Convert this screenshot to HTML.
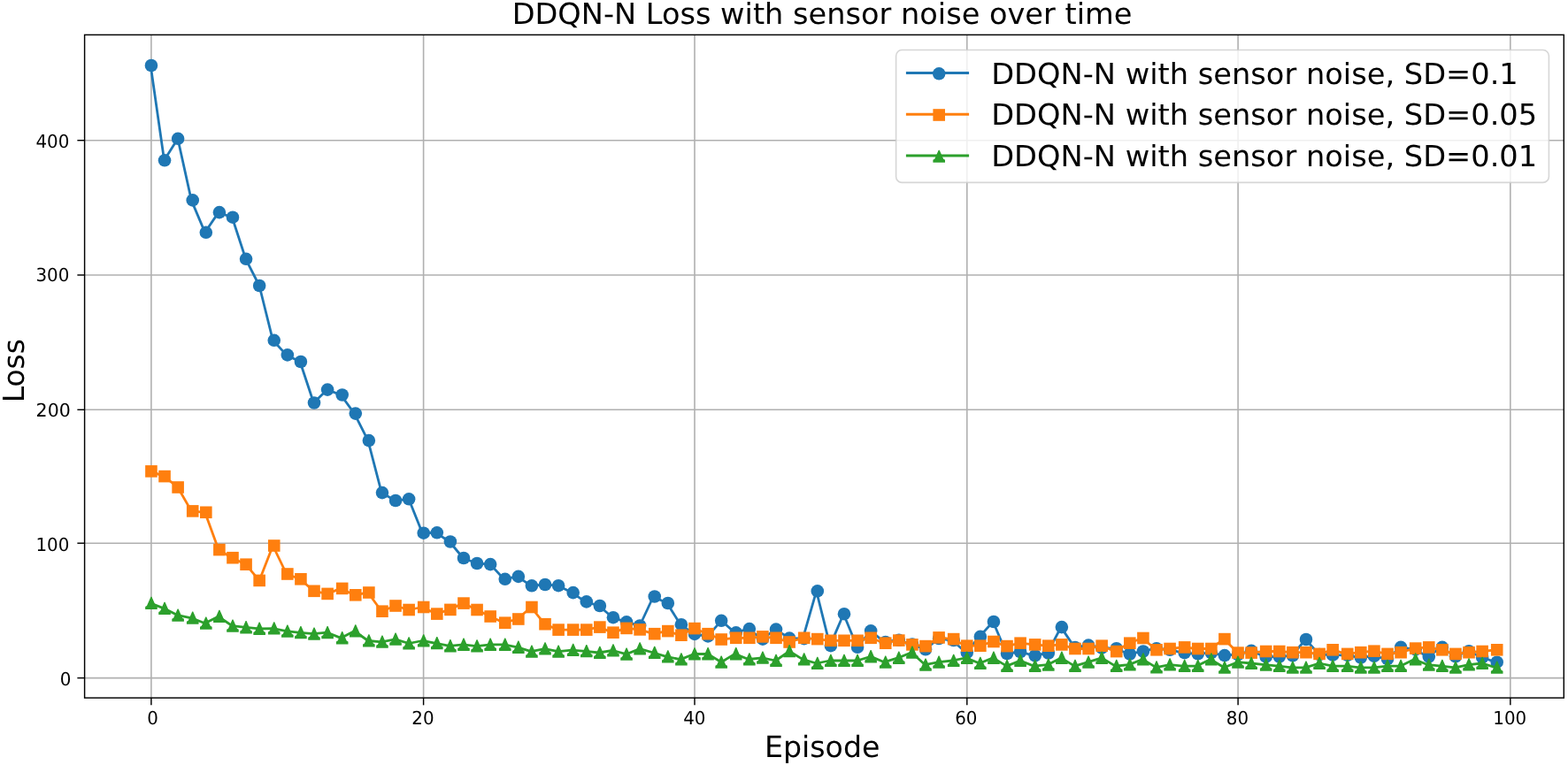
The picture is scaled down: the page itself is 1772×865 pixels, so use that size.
<!DOCTYPE html>
<html lang="en">
<head>
<meta charset="utf-8">
<title>DDQN-N Loss with sensor noise over time</title>
<style>
html,body{margin:0;padding:0;background:#fff;}
body{width:1772px;height:865px;overflow:hidden;}
svg{display:block;}
text{font-family:"DejaVu Sans", "Liberation Sans", sans-serif;fill:#000;text-rendering:geometricPrecision;}
.big{font-size:33.6px;}
.tick{font-size:20.7px;}
.grid line{stroke:#b0b0b0;stroke-width:1.6;}
.ticks line{stroke:#000;stroke-width:1.45;}
.ln{fill:none;stroke-width:2.8;stroke-linejoin:round;stroke-linecap:butt;}
</style>
</head>
<body>
<svg width="1772" height="865" viewBox="0 0 1772 865">
<rect x="0" y="0" width="1772" height="865" fill="#ffffff"/>
<g class="grid">
<line x1="170.9" y1="39.4" x2="170.9" y2="789.1"/>
<line x1="478.6" y1="39.4" x2="478.6" y2="789.1"/>
<line x1="785" y1="39.4" x2="785" y2="789.1"/>
<line x1="1092.8" y1="39.4" x2="1092.8" y2="789.1"/>
<line x1="1399.1" y1="39.4" x2="1399.1" y2="789.1"/>
<line x1="1706.85" y1="39.4" x2="1706.85" y2="789.1"/>
<line x1="95.6" y1="158.7" x2="1767.3" y2="158.7"/>
<line x1="95.6" y1="311" x2="1767.3" y2="311"/>
<line x1="95.6" y1="463.3" x2="1767.3" y2="463.3"/>
<line x1="95.6" y1="614.2" x2="1767.3" y2="614.2"/>
<line x1="95.6" y1="766.6" x2="1767.3" y2="766.6"/>
</g>
<g fill="#1f77b4" stroke="none">
<polyline class="ln" stroke="#1f77b4" points="170.2,74 185.56,181.3 200.91,156.8 216.27,226.4 231.62,262.8 246.98,240.1 262.33,245.7 277.69,292.8 293.04,323 308.4,384.8 323.76,401.4 339.11,409 354.47,455.5 369.82,440.6 385.18,446.5 400.53,467.6 415.89,498.1 431.25,557.1 446.6,566 461.96,564.3 477.31,602.7 492.67,602.3 508.02,612.5 523.38,631 538.73,637 554.09,638.1 569.45,654.8 584.8,651.9 600.16,662.3 615.51,661 630.87,662.2 646.22,670.1 661.58,680.4 676.93,685 692.29,698.2 707.65,703.3 723,707.5 738.36,674.5 753.71,682 769.07,706.2 784.42,716.9 799.78,719.4 815.14,701.8 830.49,715.4 845.85,711.1 861.2,722.6 876.56,711.6 891.91,721.6 907.27,722.1 922.62,668.4 937.98,730.1 953.34,694.2 968.69,731.8 984.05,713.3 999.4,726 1014.76,723.8 1030.11,728.5 1045.47,734.3 1060.82,722 1076.18,724 1091.54,737.8 1106.89,719.9 1122.25,703 1137.6,739 1152.96,737 1168.31,741.4 1183.67,738.5 1199.03,709.1 1214.38,732 1229.74,729.6 1245.09,732.6 1260.45,733.2 1275.8,739.5 1291.16,736.5 1306.51,733.2 1321.87,734.8 1337.23,738.1 1352.58,739.3 1367.94,738.2 1383.29,741.1 1398.65,740 1414,735.8 1429.36,742.7 1444.71,742.6 1460.07,741.4 1475.43,723 1490.78,740 1506.14,740.7 1521.49,740.8 1536.85,743.5 1552.2,741.9 1567.56,745 1582.92,731.9 1598.27,734.3 1613.63,742.6 1628.98,731.9 1644.34,742.3 1659.69,736.2 1675.05,743.4 1690.4,748.7"/>
<circle cx="170.95" cy="74" r="7.3"/><circle cx="186.04" cy="181.3" r="7.3"/><circle cx="201.12" cy="156.8" r="7.3"/><circle cx="217.72" cy="226.4" r="7.3"/><circle cx="232.81" cy="262.8" r="7.3"/>
<circle cx="247.89" cy="240.1" r="7.3"/><circle cx="262.98" cy="245.7" r="7.3"/><circle cx="278.07" cy="292.8" r="7.3"/><circle cx="293.15" cy="323" r="7.3"/><circle cx="309.75" cy="384.8" r="7.3"/>
<circle cx="324.84" cy="401.4" r="7.3"/><circle cx="339.92" cy="409" r="7.3"/><circle cx="355.01" cy="455.5" r="7.3"/><circle cx="370.1" cy="440.6" r="7.3"/><circle cx="386.69" cy="446.5" r="7.3"/>
<circle cx="401.78" cy="467.6" r="7.3"/><circle cx="416.87" cy="498.1" r="7.3"/><circle cx="431.96" cy="557.1" r="7.3"/><circle cx="447.04" cy="566" r="7.3"/><circle cx="462.13" cy="564.3" r="7.3"/>
<circle cx="478.72" cy="602.7" r="7.3"/><circle cx="493.81" cy="602.3" r="7.3"/><circle cx="508.9" cy="612.5" r="7.3"/><circle cx="523.99" cy="631" r="7.3"/><circle cx="539.07" cy="637" r="7.3"/>
<circle cx="554.16" cy="638.1" r="7.3"/><circle cx="570.76" cy="654.8" r="7.3"/><circle cx="585.84" cy="651.9" r="7.3"/><circle cx="600.93" cy="662.3" r="7.3"/><circle cx="616.02" cy="661" r="7.3"/>
<circle cx="631.1" cy="662.2" r="7.3"/><circle cx="647.7" cy="670.1" r="7.3"/><circle cx="662.79" cy="680.4" r="7.3"/><circle cx="677.87" cy="685" r="7.3"/><circle cx="692.96" cy="698.2" r="7.3"/>
<circle cx="708.05" cy="703.3" r="7.3"/><circle cx="723.13" cy="707.5" r="7.3"/><circle cx="739.73" cy="674.5" r="7.3"/><circle cx="754.82" cy="682" r="7.3"/><circle cx="769.9" cy="706.2" r="7.3"/>
<circle cx="784.99" cy="716.9" r="7.3"/><circle cx="800.08" cy="719.4" r="7.3"/><circle cx="815.16" cy="701.8" r="7.3"/><circle cx="831.76" cy="715.4" r="7.3"/><circle cx="846.85" cy="711.1" r="7.3"/>
<circle cx="861.93" cy="722.6" r="7.3"/><circle cx="877.02" cy="711.6" r="7.3"/><circle cx="892.11" cy="721.6" r="7.3"/><circle cx="908.7" cy="722.1" r="7.3"/><circle cx="923.79" cy="668.4" r="7.3"/>
<circle cx="938.88" cy="730.1" r="7.3"/><circle cx="953.97" cy="694.2" r="7.3"/><circle cx="969.05" cy="731.8" r="7.3"/><circle cx="984.14" cy="713.3" r="7.3"/><circle cx="1000.73" cy="726" r="7.3"/>
<circle cx="1015.82" cy="723.8" r="7.3"/><circle cx="1030.91" cy="728.5" r="7.3"/><circle cx="1046" cy="734.3" r="7.3"/><circle cx="1061.08" cy="722" r="7.3"/><circle cx="1077.68" cy="724" r="7.3"/>
<circle cx="1092.77" cy="737.8" r="7.3"/><circle cx="1107.85" cy="719.9" r="7.3"/><circle cx="1122.94" cy="703" r="7.3"/><circle cx="1138.03" cy="739" r="7.3"/><circle cx="1153.11" cy="737" r="7.3"/>
<circle cx="1169.71" cy="741.4" r="7.3"/><circle cx="1184.8" cy="738.5" r="7.3"/><circle cx="1199.88" cy="709.1" r="7.3"/><circle cx="1214.97" cy="732" r="7.3"/><circle cx="1230.06" cy="729.6" r="7.3"/>
<circle cx="1245.14" cy="732.6" r="7.3"/><circle cx="1261.74" cy="733.2" r="7.3"/><circle cx="1276.83" cy="739.5" r="7.3"/><circle cx="1291.91" cy="736.5" r="7.3"/><circle cx="1307" cy="733.2" r="7.3"/>
<circle cx="1322.09" cy="734.8" r="7.3"/><circle cx="1338.68" cy="738.1" r="7.3"/><circle cx="1353.77" cy="739.3" r="7.3"/><circle cx="1368.86" cy="738.2" r="7.3"/><circle cx="1383.94" cy="741.1" r="7.3"/>
<circle cx="1399.03" cy="740" r="7.3"/><circle cx="1414.12" cy="735.8" r="7.3"/><circle cx="1430.71" cy="742.7" r="7.3"/><circle cx="1445.8" cy="742.6" r="7.3"/><circle cx="1460.89" cy="741.4" r="7.3"/>
<circle cx="1475.98" cy="723" r="7.3"/><circle cx="1491.06" cy="740" r="7.3"/><circle cx="1506.15" cy="740.7" r="7.3"/><circle cx="1522.75" cy="740.8" r="7.3"/><circle cx="1537.83" cy="743.5" r="7.3"/>
<circle cx="1552.92" cy="741.9" r="7.3"/><circle cx="1568.01" cy="745" r="7.3"/><circle cx="1583.09" cy="731.9" r="7.3"/><circle cx="1599.69" cy="734.3" r="7.3"/><circle cx="1614.78" cy="742.6" r="7.3"/>
<circle cx="1629.86" cy="731.9" r="7.3"/><circle cx="1644.95" cy="742.3" r="7.3"/><circle cx="1660.04" cy="736.2" r="7.3"/><circle cx="1675.12" cy="743.4" r="7.3"/><circle cx="1691.72" cy="748.7" r="7.3"/>
</g>
<g fill="#ff7f0e" stroke="none">
<polyline class="ln" stroke="#ff7f0e" points="170.2,532.9 185.56,538.6 200.91,551 216.27,577.9 231.62,579.3 246.98,621.6 262.33,630.7 277.69,638.2 293.04,656.4 308.4,617 323.76,649 339.11,654.8 354.47,668.3 369.82,671.4 385.18,665.4 400.53,672.8 415.89,670 431.25,691.2 446.6,685 461.96,689.5 477.31,686.5 492.67,694.1 508.02,689.4 523.38,682.1 538.73,689.5 554.09,697 569.45,704.2 584.8,700 600.16,686.5 615.51,705.7 630.87,712.1 646.22,712.1 661.58,712.1 676.93,709.1 692.29,715.2 707.65,710.4 723,711.9 738.36,716.7 753.71,713.6 769.07,718.2 784.42,710.6 799.78,716.7 815.14,723 830.49,721.3 845.85,721.3 861.2,719.9 876.56,721.3 891.91,726 907.27,721.3 922.62,722.6 937.98,724.3 953.34,724.3 968.69,724.3 984.05,721.3 999.4,727.2 1014.76,724.1 1030.11,728.9 1045.47,730.6 1060.82,720.9 1076.18,722.6 1091.54,730.2 1106.89,730.2 1122.25,725.5 1137.6,730.6 1152.96,727.2 1168.31,728.9 1183.67,730.2 1199.03,728.9 1214.38,733.5 1229.74,733.5 1245.09,730.2 1260.45,736.6 1275.8,727.2 1291.16,721.5 1306.51,734.8 1321.87,733.5 1337.23,731.9 1352.58,733.5 1367.94,733.5 1383.29,722.6 1398.65,738.1 1414,738.1 1429.36,736.5 1444.71,736.5 1460.07,737.7 1475.43,737.7 1490.78,739.4 1506.14,734.8 1521.49,739.4 1536.85,737.7 1552.2,736.2 1567.56,739.4 1582.92,737.7 1598.27,733.1 1613.63,731.9 1628.98,734.8 1644.34,739.4 1659.69,737.7 1675.05,736.5 1690.4,734.8"/>
<rect x="164.15" y="526.1" width="13.6" height="13.6"/><rect x="179.24" y="531.8" width="13.6" height="13.6"/><rect x="194.32" y="544.2" width="13.6" height="13.6"/><rect x="210.92" y="571.1" width="13.6" height="13.6"/><rect x="226.01" y="572.5" width="13.6" height="13.6"/>
<rect x="241.09" y="614.8" width="13.6" height="13.6"/><rect x="256.18" y="623.9" width="13.6" height="13.6"/><rect x="271.27" y="631.4" width="13.6" height="13.6"/><rect x="286.35" y="649.6" width="13.6" height="13.6"/><rect x="302.95" y="610.2" width="13.6" height="13.6"/>
<rect x="318.04" y="642.2" width="13.6" height="13.6"/><rect x="333.12" y="648" width="13.6" height="13.6"/><rect x="348.21" y="661.5" width="13.6" height="13.6"/><rect x="363.3" y="664.6" width="13.6" height="13.6"/><rect x="379.89" y="658.6" width="13.6" height="13.6"/>
<rect x="394.98" y="666" width="13.6" height="13.6"/><rect x="410.07" y="663.2" width="13.6" height="13.6"/><rect x="425.16" y="684.4" width="13.6" height="13.6"/><rect x="440.24" y="678.2" width="13.6" height="13.6"/><rect x="455.33" y="682.7" width="13.6" height="13.6"/>
<rect x="471.92" y="679.7" width="13.6" height="13.6"/><rect x="487.01" y="687.3" width="13.6" height="13.6"/><rect x="502.1" y="682.6" width="13.6" height="13.6"/><rect x="517.19" y="675.3" width="13.6" height="13.6"/><rect x="532.27" y="682.7" width="13.6" height="13.6"/>
<rect x="547.36" y="690.2" width="13.6" height="13.6"/><rect x="563.96" y="697.4" width="13.6" height="13.6"/><rect x="579.04" y="693.2" width="13.6" height="13.6"/><rect x="594.13" y="679.7" width="13.6" height="13.6"/><rect x="609.22" y="698.9" width="13.6" height="13.6"/>
<rect x="624.3" y="705.3" width="13.6" height="13.6"/><rect x="640.9" y="705.3" width="13.6" height="13.6"/><rect x="655.99" y="705.3" width="13.6" height="13.6"/><rect x="671.07" y="702.3" width="13.6" height="13.6"/><rect x="686.16" y="708.4" width="13.6" height="13.6"/>
<rect x="701.25" y="703.6" width="13.6" height="13.6"/><rect x="716.33" y="705.1" width="13.6" height="13.6"/><rect x="732.93" y="709.9" width="13.6" height="13.6"/><rect x="748.02" y="706.8" width="13.6" height="13.6"/><rect x="763.1" y="711.4" width="13.6" height="13.6"/>
<rect x="778.19" y="703.8" width="13.6" height="13.6"/><rect x="793.28" y="709.9" width="13.6" height="13.6"/><rect x="808.36" y="716.2" width="13.6" height="13.6"/><rect x="824.96" y="714.5" width="13.6" height="13.6"/><rect x="840.05" y="714.5" width="13.6" height="13.6"/>
<rect x="855.13" y="713.1" width="13.6" height="13.6"/><rect x="870.22" y="714.5" width="13.6" height="13.6"/><rect x="885.31" y="719.2" width="13.6" height="13.6"/><rect x="901.9" y="714.5" width="13.6" height="13.6"/><rect x="916.99" y="715.8" width="13.6" height="13.6"/>
<rect x="932.08" y="717.5" width="13.6" height="13.6"/><rect x="947.17" y="717.5" width="13.6" height="13.6"/><rect x="962.25" y="717.5" width="13.6" height="13.6"/><rect x="977.34" y="714.5" width="13.6" height="13.6"/><rect x="993.93" y="720.4" width="13.6" height="13.6"/>
<rect x="1009.02" y="717.3" width="13.6" height="13.6"/><rect x="1024.11" y="722.1" width="13.6" height="13.6"/><rect x="1039.2" y="723.8" width="13.6" height="13.6"/><rect x="1054.28" y="714.1" width="13.6" height="13.6"/><rect x="1070.88" y="715.8" width="13.6" height="13.6"/>
<rect x="1085.97" y="723.4" width="13.6" height="13.6"/><rect x="1101.05" y="723.4" width="13.6" height="13.6"/><rect x="1116.14" y="718.7" width="13.6" height="13.6"/><rect x="1131.23" y="723.8" width="13.6" height="13.6"/><rect x="1146.31" y="720.4" width="13.6" height="13.6"/>
<rect x="1162.91" y="722.1" width="13.6" height="13.6"/><rect x="1178" y="723.4" width="13.6" height="13.6"/><rect x="1193.08" y="722.1" width="13.6" height="13.6"/><rect x="1208.17" y="726.7" width="13.6" height="13.6"/><rect x="1223.26" y="726.7" width="13.6" height="13.6"/>
<rect x="1238.34" y="723.4" width="13.6" height="13.6"/><rect x="1254.94" y="729.8" width="13.6" height="13.6"/><rect x="1270.03" y="720.4" width="13.6" height="13.6"/><rect x="1285.11" y="714.7" width="13.6" height="13.6"/><rect x="1300.2" y="728" width="13.6" height="13.6"/>
<rect x="1315.29" y="726.7" width="13.6" height="13.6"/><rect x="1331.88" y="725.1" width="13.6" height="13.6"/><rect x="1346.97" y="726.7" width="13.6" height="13.6"/><rect x="1362.06" y="726.7" width="13.6" height="13.6"/><rect x="1377.14" y="715.8" width="13.6" height="13.6"/>
<rect x="1392.23" y="731.3" width="13.6" height="13.6"/><rect x="1407.32" y="731.3" width="13.6" height="13.6"/><rect x="1423.91" y="729.7" width="13.6" height="13.6"/><rect x="1439" y="729.7" width="13.6" height="13.6"/><rect x="1454.09" y="730.9" width="13.6" height="13.6"/>
<rect x="1469.18" y="730.9" width="13.6" height="13.6"/><rect x="1484.26" y="732.6" width="13.6" height="13.6"/><rect x="1499.35" y="728" width="13.6" height="13.6"/><rect x="1515.95" y="732.6" width="13.6" height="13.6"/><rect x="1531.03" y="730.9" width="13.6" height="13.6"/>
<rect x="1546.12" y="729.4" width="13.6" height="13.6"/><rect x="1561.21" y="732.6" width="13.6" height="13.6"/><rect x="1576.29" y="730.9" width="13.6" height="13.6"/><rect x="1592.89" y="726.3" width="13.6" height="13.6"/><rect x="1607.98" y="725.1" width="13.6" height="13.6"/>
<rect x="1623.06" y="728" width="13.6" height="13.6"/><rect x="1638.15" y="732.6" width="13.6" height="13.6"/><rect x="1653.24" y="730.9" width="13.6" height="13.6"/><rect x="1668.32" y="729.7" width="13.6" height="13.6"/><rect x="1684.92" y="728" width="13.6" height="13.6"/>
</g>
<g fill="#2ca02c" stroke="none">
<polyline class="ln" stroke="#2ca02c" points="170.2,682 185.56,688.1 200.91,695.7 216.27,698.8 231.62,704.7 246.98,697.1 262.33,707.7 277.69,709.4 293.04,710.9 308.4,710.6 323.76,713.7 339.11,715.3 354.47,716.7 369.82,715.2 385.18,721.4 400.53,713.5 415.89,724.5 431.25,725.8 446.6,722.8 461.96,727.5 477.31,724.5 492.67,727.3 508.02,730.4 523.38,728.9 538.73,730.6 554.09,728.9 569.45,728.9 584.8,731.9 600.16,736.7 615.51,733.6 630.87,736.7 646.22,735.1 661.58,736.3 676.93,738 692.29,735.5 707.65,739.7 723,733.6 738.36,738 753.71,742.6 769.07,745.6 784.42,739.5 799.78,739.4 815.14,748.7 830.49,739.4 845.85,745.5 861.2,743.8 876.56,747 891.91,736.3 907.27,745.6 922.62,750 937.98,747 953.34,747 968.69,747 984.05,742.4 999.4,748.7 1014.76,743.9 1030.11,737.7 1045.47,751.7 1060.82,748.7 1076.18,747 1091.54,743.9 1106.89,750 1122.25,743.9 1137.6,753.1 1152.96,747 1168.31,753.1 1183.67,751.7 1199.03,743.9 1214.38,753.1 1229.74,748.7 1245.09,743.9 1260.45,753.1 1275.8,751.6 1291.16,745.5 1306.51,754.6 1321.87,751.6 1337.23,753.1 1352.58,753.1 1367.94,745.5 1383.29,754.8 1398.65,748.7 1414,750 1429.36,751.7 1444.71,753.1 1460.07,754.8 1475.43,754.8 1490.78,750 1506.14,753.1 1521.49,753.1 1536.85,754.8 1552.2,754.8 1567.56,753.1 1582.92,753.1 1598.27,745.5 1613.63,751.7 1628.98,753.1 1644.34,754.8 1659.69,751.6 1675.05,750 1690.4,754.8"/>
<polygon points="170.95,674.7 171.45,674.7 175.95,685 177.75,686 177.75,689 164.15,689 164.15,686 165.95,685 170.45,674.7"/><polygon points="186.04,680.8 186.54,680.8 191.04,691.1 192.84,692.1 192.84,695.1 179.24,695.1 179.24,692.1 181.04,691.1 185.54,680.8"/><polygon points="201.12,688.4 201.62,688.4 206.12,698.7 207.92,699.7 207.92,702.7 194.32,702.7 194.32,699.7 196.12,698.7 200.62,688.4"/><polygon points="217.72,691.5 218.22,691.5 222.72,701.8 224.52,702.8 224.52,705.8 210.92,705.8 210.92,702.8 212.72,701.8 217.22,691.5"/><polygon points="232.81,697.4 233.31,697.4 237.81,707.7 239.61,708.7 239.61,711.7 226.01,711.7 226.01,708.7 227.81,707.7 232.31,697.4"/>
<polygon points="247.89,689.8 248.39,689.8 252.89,700.1 254.69,701.1 254.69,704.1 241.09,704.1 241.09,701.1 242.89,700.1 247.39,689.8"/><polygon points="262.98,700.4 263.48,700.4 267.98,710.7 269.78,711.7 269.78,714.7 256.18,714.7 256.18,711.7 257.98,710.7 262.48,700.4"/><polygon points="278.07,702.1 278.57,702.1 283.07,712.4 284.87,713.4 284.87,716.4 271.27,716.4 271.27,713.4 273.07,712.4 277.57,702.1"/><polygon points="293.15,703.6 293.65,703.6 298.15,713.9 299.95,714.9 299.95,717.9 286.35,717.9 286.35,714.9 288.15,713.9 292.65,703.6"/><polygon points="309.75,703.3 310.25,703.3 314.75,713.6 316.55,714.6 316.55,717.6 302.95,717.6 302.95,714.6 304.75,713.6 309.25,703.3"/>
<polygon points="324.84,706.4 325.34,706.4 329.84,716.7 331.64,717.7 331.64,720.7 318.04,720.7 318.04,717.7 319.84,716.7 324.34,706.4"/><polygon points="339.92,708 340.42,708 344.92,718.3 346.72,719.3 346.72,722.3 333.12,722.3 333.12,719.3 334.92,718.3 339.42,708"/><polygon points="355.01,709.4 355.51,709.4 360.01,719.7 361.81,720.7 361.81,723.7 348.21,723.7 348.21,720.7 350.01,719.7 354.51,709.4"/><polygon points="370.1,707.9 370.6,707.9 375.1,718.2 376.9,719.2 376.9,722.2 363.3,722.2 363.3,719.2 365.1,718.2 369.6,707.9"/><polygon points="386.69,714.1 387.19,714.1 391.69,724.4 393.49,725.4 393.49,728.4 379.89,728.4 379.89,725.4 381.69,724.4 386.19,714.1"/>
<polygon points="401.78,706.2 402.28,706.2 406.78,716.5 408.58,717.5 408.58,720.5 394.98,720.5 394.98,717.5 396.78,716.5 401.28,706.2"/><polygon points="416.87,717.2 417.37,717.2 421.87,727.5 423.67,728.5 423.67,731.5 410.07,731.5 410.07,728.5 411.87,727.5 416.37,717.2"/><polygon points="431.96,718.5 432.46,718.5 436.96,728.8 438.76,729.8 438.76,732.8 425.16,732.8 425.16,729.8 426.96,728.8 431.46,718.5"/><polygon points="447.04,715.5 447.54,715.5 452.04,725.8 453.84,726.8 453.84,729.8 440.24,729.8 440.24,726.8 442.04,725.8 446.54,715.5"/><polygon points="462.13,720.2 462.63,720.2 467.13,730.5 468.93,731.5 468.93,734.5 455.33,734.5 455.33,731.5 457.13,730.5 461.63,720.2"/>
<polygon points="478.72,717.2 479.22,717.2 483.72,727.5 485.52,728.5 485.52,731.5 471.92,731.5 471.92,728.5 473.72,727.5 478.22,717.2"/><polygon points="493.81,720 494.31,720 498.81,730.3 500.61,731.3 500.61,734.3 487.01,734.3 487.01,731.3 488.81,730.3 493.31,720"/><polygon points="508.9,723.1 509.4,723.1 513.9,733.4 515.7,734.4 515.7,737.4 502.1,737.4 502.1,734.4 503.9,733.4 508.4,723.1"/><polygon points="523.99,721.6 524.49,721.6 528.99,731.9 530.79,732.9 530.79,735.9 517.19,735.9 517.19,732.9 518.99,731.9 523.49,721.6"/><polygon points="539.07,723.3 539.57,723.3 544.07,733.6 545.87,734.6 545.87,737.6 532.27,737.6 532.27,734.6 534.07,733.6 538.57,723.3"/>
<polygon points="554.16,721.6 554.66,721.6 559.16,731.9 560.96,732.9 560.96,735.9 547.36,735.9 547.36,732.9 549.16,731.9 553.66,721.6"/><polygon points="570.76,721.6 571.26,721.6 575.76,731.9 577.56,732.9 577.56,735.9 563.96,735.9 563.96,732.9 565.76,731.9 570.26,721.6"/><polygon points="585.84,724.6 586.34,724.6 590.84,734.9 592.64,735.9 592.64,738.9 579.04,738.9 579.04,735.9 580.84,734.9 585.34,724.6"/><polygon points="600.93,729.4 601.43,729.4 605.93,739.7 607.73,740.7 607.73,743.7 594.13,743.7 594.13,740.7 595.93,739.7 600.43,729.4"/><polygon points="616.02,726.3 616.52,726.3 621.02,736.6 622.82,737.6 622.82,740.6 609.22,740.6 609.22,737.6 611.02,736.6 615.52,726.3"/>
<polygon points="631.1,729.4 631.6,729.4 636.1,739.7 637.9,740.7 637.9,743.7 624.3,743.7 624.3,740.7 626.1,739.7 630.6,729.4"/><polygon points="647.7,727.8 648.2,727.8 652.7,738.1 654.5,739.1 654.5,742.1 640.9,742.1 640.9,739.1 642.7,738.1 647.2,727.8"/><polygon points="662.79,729 663.29,729 667.79,739.3 669.59,740.3 669.59,743.3 655.99,743.3 655.99,740.3 657.79,739.3 662.29,729"/><polygon points="677.87,730.7 678.37,730.7 682.87,741 684.67,742 684.67,745 671.07,745 671.07,742 672.87,741 677.37,730.7"/><polygon points="692.96,728.2 693.46,728.2 697.96,738.5 699.76,739.5 699.76,742.5 686.16,742.5 686.16,739.5 687.96,738.5 692.46,728.2"/>
<polygon points="708.05,732.4 708.55,732.4 713.05,742.7 714.85,743.7 714.85,746.7 701.25,746.7 701.25,743.7 703.05,742.7 707.55,732.4"/><polygon points="723.13,726.3 723.63,726.3 728.13,736.6 729.93,737.6 729.93,740.6 716.33,740.6 716.33,737.6 718.13,736.6 722.63,726.3"/><polygon points="739.73,730.7 740.23,730.7 744.73,741 746.53,742 746.53,745 732.93,745 732.93,742 734.73,741 739.23,730.7"/><polygon points="754.82,735.3 755.32,735.3 759.82,745.6 761.62,746.6 761.62,749.6 748.02,749.6 748.02,746.6 749.82,745.6 754.32,735.3"/><polygon points="769.9,738.3 770.4,738.3 774.9,748.6 776.7,749.6 776.7,752.6 763.1,752.6 763.1,749.6 764.9,748.6 769.4,738.3"/>
<polygon points="784.99,732.2 785.49,732.2 789.99,742.5 791.79,743.5 791.79,746.5 778.19,746.5 778.19,743.5 779.99,742.5 784.49,732.2"/><polygon points="800.08,732.1 800.58,732.1 805.08,742.4 806.88,743.4 806.88,746.4 793.28,746.4 793.28,743.4 795.08,742.4 799.58,732.1"/><polygon points="815.16,741.4 815.66,741.4 820.16,751.7 821.96,752.7 821.96,755.7 808.36,755.7 808.36,752.7 810.16,751.7 814.66,741.4"/><polygon points="831.76,732.1 832.26,732.1 836.76,742.4 838.56,743.4 838.56,746.4 824.96,746.4 824.96,743.4 826.76,742.4 831.26,732.1"/><polygon points="846.85,738.2 847.35,738.2 851.85,748.5 853.65,749.5 853.65,752.5 840.05,752.5 840.05,749.5 841.85,748.5 846.35,738.2"/>
<polygon points="861.93,736.5 862.43,736.5 866.93,746.8 868.73,747.8 868.73,750.8 855.13,750.8 855.13,747.8 856.93,746.8 861.43,736.5"/><polygon points="877.02,739.7 877.52,739.7 882.02,750 883.82,751 883.82,754 870.22,754 870.22,751 872.02,750 876.52,739.7"/><polygon points="892.11,729 892.61,729 897.11,739.3 898.91,740.3 898.91,743.3 885.31,743.3 885.31,740.3 887.11,739.3 891.61,729"/><polygon points="908.7,738.3 909.2,738.3 913.7,748.6 915.5,749.6 915.5,752.6 901.9,752.6 901.9,749.6 903.7,748.6 908.2,738.3"/><polygon points="923.79,742.7 924.29,742.7 928.79,753 930.59,754 930.59,757 916.99,757 916.99,754 918.79,753 923.29,742.7"/>
<polygon points="938.88,739.7 939.38,739.7 943.88,750 945.68,751 945.68,754 932.08,754 932.08,751 933.88,750 938.38,739.7"/><polygon points="953.97,739.7 954.47,739.7 958.97,750 960.77,751 960.77,754 947.17,754 947.17,751 948.97,750 953.47,739.7"/><polygon points="969.05,739.7 969.55,739.7 974.05,750 975.85,751 975.85,754 962.25,754 962.25,751 964.05,750 968.55,739.7"/><polygon points="984.14,735.1 984.64,735.1 989.14,745.4 990.94,746.4 990.94,749.4 977.34,749.4 977.34,746.4 979.14,745.4 983.64,735.1"/><polygon points="1000.73,741.4 1001.23,741.4 1005.73,751.7 1007.53,752.7 1007.53,755.7 993.93,755.7 993.93,752.7 995.73,751.7 1000.23,741.4"/>
<polygon points="1015.82,736.6 1016.32,736.6 1020.82,746.9 1022.62,747.9 1022.62,750.9 1009.02,750.9 1009.02,747.9 1010.82,746.9 1015.32,736.6"/><polygon points="1030.91,730.4 1031.41,730.4 1035.91,740.7 1037.71,741.7 1037.71,744.7 1024.11,744.7 1024.11,741.7 1025.91,740.7 1030.41,730.4"/><polygon points="1046,744.4 1046.5,744.4 1051,754.7 1052.8,755.7 1052.8,758.7 1039.2,758.7 1039.2,755.7 1041,754.7 1045.5,744.4"/><polygon points="1061.08,741.4 1061.58,741.4 1066.08,751.7 1067.88,752.7 1067.88,755.7 1054.28,755.7 1054.28,752.7 1056.08,751.7 1060.58,741.4"/><polygon points="1077.68,739.7 1078.18,739.7 1082.68,750 1084.48,751 1084.48,754 1070.88,754 1070.88,751 1072.68,750 1077.18,739.7"/>
<polygon points="1092.77,736.6 1093.27,736.6 1097.77,746.9 1099.57,747.9 1099.57,750.9 1085.97,750.9 1085.97,747.9 1087.77,746.9 1092.27,736.6"/><polygon points="1107.85,742.7 1108.35,742.7 1112.85,753 1114.65,754 1114.65,757 1101.05,757 1101.05,754 1102.85,753 1107.35,742.7"/><polygon points="1122.94,736.6 1123.44,736.6 1127.94,746.9 1129.74,747.9 1129.74,750.9 1116.14,750.9 1116.14,747.9 1117.94,746.9 1122.44,736.6"/><polygon points="1138.03,745.8 1138.53,745.8 1143.03,756.1 1144.83,757.1 1144.83,760.1 1131.23,760.1 1131.23,757.1 1133.03,756.1 1137.53,745.8"/><polygon points="1153.11,739.7 1153.61,739.7 1158.11,750 1159.91,751 1159.91,754 1146.31,754 1146.31,751 1148.11,750 1152.61,739.7"/>
<polygon points="1169.71,745.8 1170.21,745.8 1174.71,756.1 1176.51,757.1 1176.51,760.1 1162.91,760.1 1162.91,757.1 1164.71,756.1 1169.21,745.8"/><polygon points="1184.8,744.4 1185.3,744.4 1189.8,754.7 1191.6,755.7 1191.6,758.7 1178,758.7 1178,755.7 1179.8,754.7 1184.3,744.4"/><polygon points="1199.88,736.6 1200.38,736.6 1204.88,746.9 1206.68,747.9 1206.68,750.9 1193.08,750.9 1193.08,747.9 1194.88,746.9 1199.38,736.6"/><polygon points="1214.97,745.8 1215.47,745.8 1219.97,756.1 1221.77,757.1 1221.77,760.1 1208.17,760.1 1208.17,757.1 1209.97,756.1 1214.47,745.8"/><polygon points="1230.06,741.4 1230.56,741.4 1235.06,751.7 1236.86,752.7 1236.86,755.7 1223.26,755.7 1223.26,752.7 1225.06,751.7 1229.56,741.4"/>
<polygon points="1245.14,736.6 1245.64,736.6 1250.14,746.9 1251.94,747.9 1251.94,750.9 1238.34,750.9 1238.34,747.9 1240.14,746.9 1244.64,736.6"/><polygon points="1261.74,745.8 1262.24,745.8 1266.74,756.1 1268.54,757.1 1268.54,760.1 1254.94,760.1 1254.94,757.1 1256.74,756.1 1261.24,745.8"/><polygon points="1276.83,744.3 1277.33,744.3 1281.83,754.6 1283.63,755.6 1283.63,758.6 1270.03,758.6 1270.03,755.6 1271.83,754.6 1276.33,744.3"/><polygon points="1291.91,738.2 1292.41,738.2 1296.91,748.5 1298.71,749.5 1298.71,752.5 1285.11,752.5 1285.11,749.5 1286.91,748.5 1291.41,738.2"/><polygon points="1307,747.3 1307.5,747.3 1312,757.6 1313.8,758.6 1313.8,761.6 1300.2,761.6 1300.2,758.6 1302,757.6 1306.5,747.3"/>
<polygon points="1322.09,744.3 1322.59,744.3 1327.09,754.6 1328.89,755.6 1328.89,758.6 1315.29,758.6 1315.29,755.6 1317.09,754.6 1321.59,744.3"/><polygon points="1338.68,745.8 1339.18,745.8 1343.68,756.1 1345.48,757.1 1345.48,760.1 1331.88,760.1 1331.88,757.1 1333.68,756.1 1338.18,745.8"/><polygon points="1353.77,745.8 1354.27,745.8 1358.77,756.1 1360.57,757.1 1360.57,760.1 1346.97,760.1 1346.97,757.1 1348.77,756.1 1353.27,745.8"/><polygon points="1368.86,738.2 1369.36,738.2 1373.86,748.5 1375.66,749.5 1375.66,752.5 1362.06,752.5 1362.06,749.5 1363.86,748.5 1368.36,738.2"/><polygon points="1383.94,747.5 1384.44,747.5 1388.94,757.8 1390.74,758.8 1390.74,761.8 1377.14,761.8 1377.14,758.8 1378.94,757.8 1383.44,747.5"/>
<polygon points="1399.03,741.4 1399.53,741.4 1404.03,751.7 1405.83,752.7 1405.83,755.7 1392.23,755.7 1392.23,752.7 1394.03,751.7 1398.53,741.4"/><polygon points="1414.12,742.7 1414.62,742.7 1419.12,753 1420.92,754 1420.92,757 1407.32,757 1407.32,754 1409.12,753 1413.62,742.7"/><polygon points="1430.71,744.4 1431.21,744.4 1435.71,754.7 1437.51,755.7 1437.51,758.7 1423.91,758.7 1423.91,755.7 1425.71,754.7 1430.21,744.4"/><polygon points="1445.8,745.8 1446.3,745.8 1450.8,756.1 1452.6,757.1 1452.6,760.1 1439,760.1 1439,757.1 1440.8,756.1 1445.3,745.8"/><polygon points="1460.89,747.5 1461.39,747.5 1465.89,757.8 1467.69,758.8 1467.69,761.8 1454.09,761.8 1454.09,758.8 1455.89,757.8 1460.39,747.5"/>
<polygon points="1475.98,747.5 1476.48,747.5 1480.98,757.8 1482.78,758.8 1482.78,761.8 1469.18,761.8 1469.18,758.8 1470.98,757.8 1475.48,747.5"/><polygon points="1491.06,742.7 1491.56,742.7 1496.06,753 1497.86,754 1497.86,757 1484.26,757 1484.26,754 1486.06,753 1490.56,742.7"/><polygon points="1506.15,745.8 1506.65,745.8 1511.15,756.1 1512.95,757.1 1512.95,760.1 1499.35,760.1 1499.35,757.1 1501.15,756.1 1505.65,745.8"/><polygon points="1522.75,745.8 1523.25,745.8 1527.75,756.1 1529.55,757.1 1529.55,760.1 1515.95,760.1 1515.95,757.1 1517.75,756.1 1522.25,745.8"/><polygon points="1537.83,747.5 1538.33,747.5 1542.83,757.8 1544.63,758.8 1544.63,761.8 1531.03,761.8 1531.03,758.8 1532.83,757.8 1537.33,747.5"/>
<polygon points="1552.92,747.5 1553.42,747.5 1557.92,757.8 1559.72,758.8 1559.72,761.8 1546.12,761.8 1546.12,758.8 1547.92,757.8 1552.42,747.5"/><polygon points="1568.01,745.8 1568.51,745.8 1573.01,756.1 1574.81,757.1 1574.81,760.1 1561.21,760.1 1561.21,757.1 1563.01,756.1 1567.51,745.8"/><polygon points="1583.09,745.8 1583.59,745.8 1588.09,756.1 1589.89,757.1 1589.89,760.1 1576.29,760.1 1576.29,757.1 1578.09,756.1 1582.59,745.8"/><polygon points="1599.69,738.2 1600.19,738.2 1604.69,748.5 1606.49,749.5 1606.49,752.5 1592.89,752.5 1592.89,749.5 1594.69,748.5 1599.19,738.2"/><polygon points="1614.78,744.4 1615.28,744.4 1619.78,754.7 1621.58,755.7 1621.58,758.7 1607.98,758.7 1607.98,755.7 1609.78,754.7 1614.28,744.4"/>
<polygon points="1629.86,745.8 1630.36,745.8 1634.86,756.1 1636.66,757.1 1636.66,760.1 1623.06,760.1 1623.06,757.1 1624.86,756.1 1629.36,745.8"/><polygon points="1644.95,747.5 1645.45,747.5 1649.95,757.8 1651.75,758.8 1651.75,761.8 1638.15,761.8 1638.15,758.8 1639.95,757.8 1644.45,747.5"/><polygon points="1660.04,744.3 1660.54,744.3 1665.04,754.6 1666.84,755.6 1666.84,758.6 1653.24,758.6 1653.24,755.6 1655.04,754.6 1659.54,744.3"/><polygon points="1675.12,742.7 1675.62,742.7 1680.12,753 1681.92,754 1681.92,757 1668.32,757 1668.32,754 1670.12,753 1674.62,742.7"/><polygon points="1691.72,747.5 1692.22,747.5 1696.72,757.8 1698.52,758.8 1698.52,761.8 1684.92,761.8 1684.92,758.8 1686.72,757.8 1691.22,747.5"/>
</g>
<rect x="95.6" y="39.4" width="1671.7" height="749.7" fill="none" stroke="#000" stroke-width="1.45"/>
<g class="ticks">
<line x1="170.9" y1="789.1" x2="170.9" y2="797.33"/>
<line x1="478.6" y1="789.1" x2="478.6" y2="797.33"/>
<line x1="785" y1="789.1" x2="785" y2="797.33"/>
<line x1="1092.8" y1="789.1" x2="1092.8" y2="797.33"/>
<line x1="1399.1" y1="789.1" x2="1399.1" y2="797.33"/>
<line x1="1706.85" y1="789.1" x2="1706.85" y2="797.33"/>
<line x1="87.38" y1="158.7" x2="95.6" y2="158.7"/>
<line x1="87.38" y1="311" x2="95.6" y2="311"/>
<line x1="87.38" y1="463.3" x2="95.6" y2="463.3"/>
<line x1="87.38" y1="614.2" x2="95.6" y2="614.2"/>
<line x1="87.38" y1="766.6" x2="95.6" y2="766.6"/>
</g>
<text class="tick" transform="translate(172.5,818.6) scale(0.96,1)" text-anchor="middle">0</text>
<text class="tick" transform="translate(477.9,818.6) scale(0.96,1)" text-anchor="middle">20</text>
<text class="tick" transform="translate(784.8,818.6) scale(0.96,1)" text-anchor="middle">40</text>
<text class="tick" transform="translate(1091.85,818.6) scale(0.96,1)" text-anchor="middle">60</text>
<text class="tick" transform="translate(1398.4,818.6) scale(0.96,1)" text-anchor="middle">80</text>
<text class="tick" transform="translate(1706.2,818.6) scale(0.96,1)" text-anchor="middle">100</text>
<text class="tick" transform="translate(78.3,167.1) scale(0.96,1)" text-anchor="end">400</text>
<text class="tick" transform="translate(78.3,318.3) scale(0.96,1)" text-anchor="end">300</text>
<text class="tick" transform="translate(79.7,470.6) scale(0.99,1)" text-anchor="end">200</text>
<text class="tick" transform="translate(78.3,623.3) scale(0.96,1)" text-anchor="end">100</text>
<text class="tick" transform="translate(80.3,775.1) scale(0.96,1)" text-anchor="end">0</text>
<text class="big" transform="translate(929,26.6) scale(1,0.98)" text-anchor="middle">DDQN-N Loss with sensor noise over time</text>
<text class="big" style="font-size:33.2px" x="929.25" y="856" text-anchor="middle">Episode</text>
<text class="big" style="font-size:32.9px" transform="translate(27,419.25) rotate(-90)" text-anchor="middle">Loss</text>
<rect x="1012.6" y="56.5" width="737.8" height="149.9" rx="6.7" ry="6.7" fill="#ffffff" fill-opacity="0.8" stroke="#cccccc" stroke-opacity="0.8" stroke-width="1.6"/>
<line x1="1023.9" y1="82.4" x2="1095.1" y2="82.4" stroke="#1f77b4" stroke-width="3"/>
<circle cx="1061.2" cy="83.3" r="7.3" fill="#1f77b4"/>
<text class="big" transform="translate(1120.2,94.6) scale(1.002,0.98)">DDQN-N with sensor noise, SD=0.1</text>
<line x1="1023.9" y1="129.3" x2="1095.1" y2="129.3" stroke="#ff7f0e" stroke-width="3"/>
<rect x="1054.4" y="123.2" width="13.6" height="13.6" fill="#ff7f0e"/>
<text class="big" transform="translate(1120.2,140.9) scale(1.002,0.98)">DDQN-N with sensor noise, SD=0.05</text>
<line x1="1023.9" y1="175.9" x2="1095.1" y2="175.9" stroke="#2ca02c" stroke-width="3"/>
<polygon points="1061.2,169.8 1061.7,169.8 1066.2,179.7 1068,180.7 1068,183.7 1054.4,183.7 1054.4,180.7 1056.2,179.7 1060.7,169.8" fill="#2ca02c"/>
<text class="big" transform="translate(1120.2,187.6) scale(1.002,0.98)">DDQN-N with sensor noise, SD=0.01</text>
</svg>
</body>
</html>
